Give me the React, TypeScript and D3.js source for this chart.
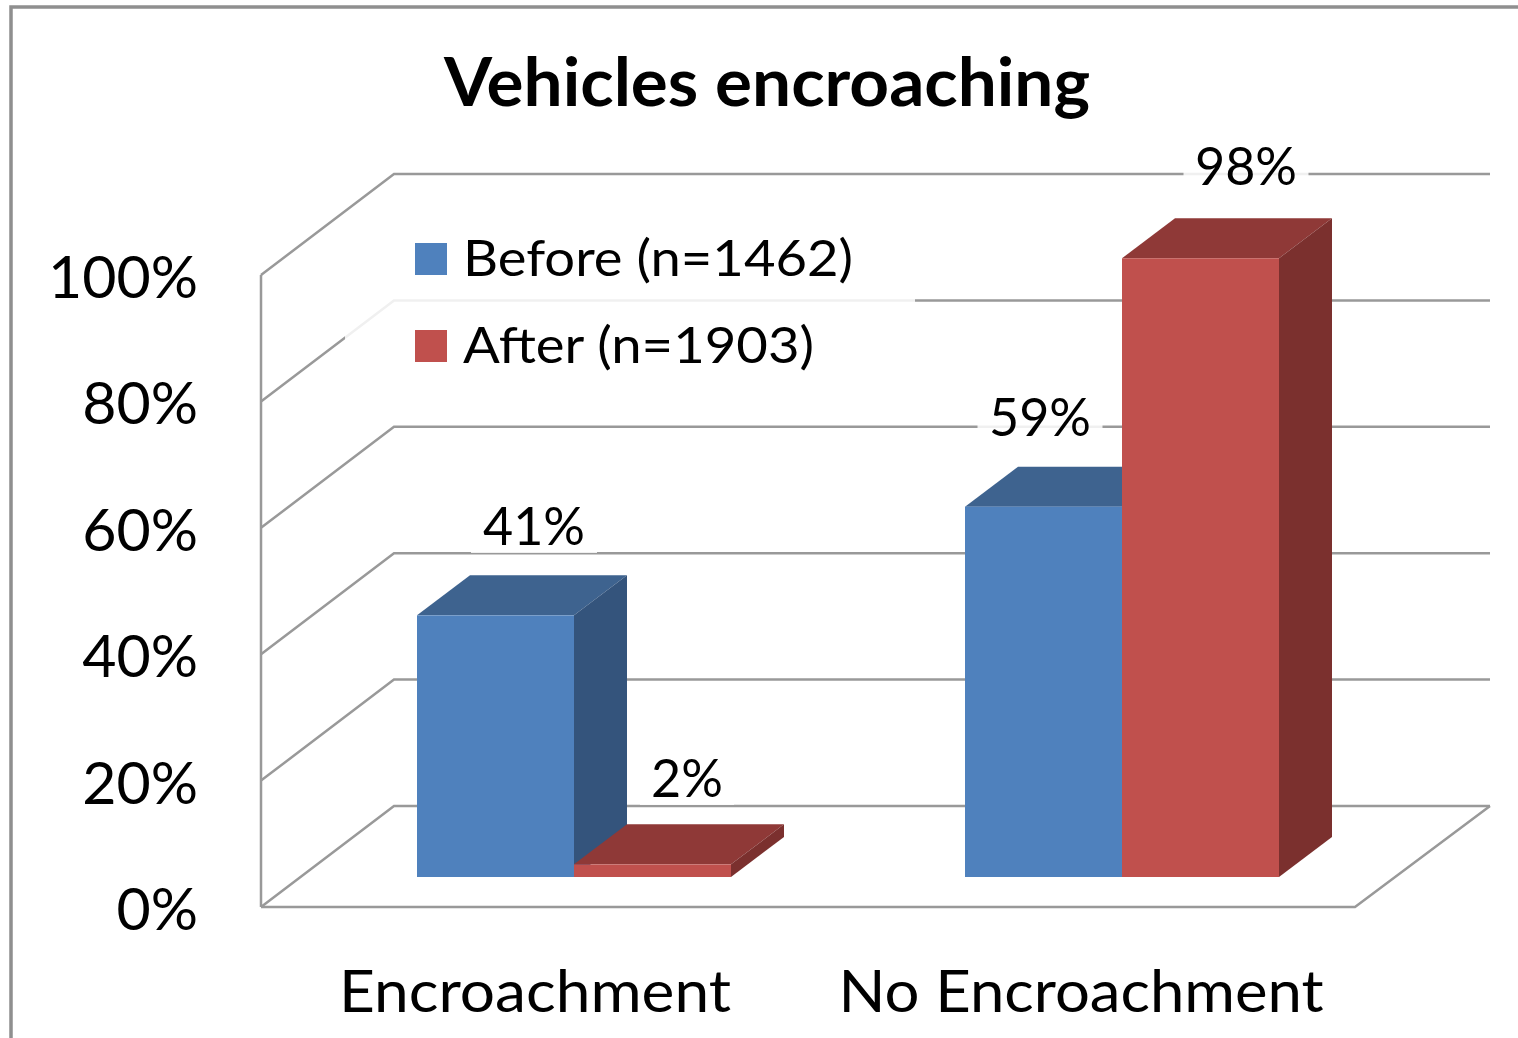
import React from "react";
import * as d3 from "d3";

const categories = ["Encroachment", "No Encroachment"];
const seriesNames = ["Before (n=1462)", "After (n=1903)"];
const before = [41.4, 58.6];
const after = [2, 97.9];
const ticks = [0, 20, 40, 60, 80, 100];
const title = "Vehicles encroaching";

const colors = [
  { front: "#4f81bd", top: "#3e638f", side: "#34547c" },
  { front: "#c0504d", top: "#8f3937", side: "#7b302e" },
];

const yFront = d3.scaleLinear().domain([0, 100]).range([907, 275]);
const depth = { dx: 133, dy: -101 };
const barDepth = { dx: 53, dy: -40 };
const floorFrontY = 877;
const barScale = d3.scaleLinear().domain([0, 100]).range([0, 632]);
const FONT = "Lato, 'Open Sans', sans-serif";
const pct = d3.format(".0f");

export default function App() {
  const barW = 157;
  const gridColor = "#999999";
  const bars = categories.flatMap((c, i) => [
    { c, s: 0, v: before[i], i },
    { c, s: 1, v: after[i], i },
  ]);
  const x0 = (i: number) => (i === 0 ? 417 : 965);
  const labelPos = [
    { v: before[0], x: 534, y: 545, w: 126 },
    { v: after[0], x: 687, y: 797, w: 94 },
    { v: before[1], x: 1040, y: 436, w: 125 },
    { v: after[1], x: 1246, y: 185, w: 125 },
  ];
  return (
    <svg width={1518} height={1038} style={{ position: "absolute", left: 0, top: 0, background: "#fff" }}>
      <rect x={11} y={7} width={1520} height={1040} fill="#fff" stroke="#8f8f8f" strokeWidth={3.5} />
      <text x={767} y={106} textAnchor="middle" fontFamily={FONT} fontWeight={700} fontSize={66} fill="#000" textLength={646} lengthAdjust="spacingAndGlyphs">{title}</text>
      <g fill="none" stroke={gridColor} strokeWidth={2.5}>
        <line x1={261} y1={yFront(0)} x2={261} y2={yFront(100)} />
        {ticks.map((t) => {
          const y = yFront(t);
          return <path key={t} d={`M261,${y}L${261 + depth.dx},${y + depth.dy}L1490,${y + depth.dy}`} />;
        })}
        <path d="M261,907L1355,907L1490,806" />
      </g>
      {/* translucent label backgrounds over the gridlines */}
      <rect x={345} y={290} width={570} height={50} fill="#fff" opacity={0.85} />
      {labelPos.map((l, i) => (
        <rect key={i} x={l.x - l.w / 2} y={l.y - 30} width={l.w} height={38} fill="#fff" opacity={0.85} />
      ))}
      {bars.map((b) => {
        const x = x0(b.i) + b.s * barW;
        const h = barScale(b.v);
        const yt = floorFrontY - h;
        const col = colors[b.s];
        return (
          <g key={b.c + b.s}>
            <path d={`M${x},${yt}L${x + barDepth.dx},${yt + barDepth.dy}L${x + barW + barDepth.dx},${yt + barDepth.dy}L${x + barW},${yt}Z`} fill={col.top} />
            <path d={`M${x + barW},${yt}L${x + barW + barDepth.dx},${yt + barDepth.dy}L${x + barW + barDepth.dx},${floorFrontY + barDepth.dy}L${x + barW},${floorFrontY}Z`} fill={col.side} />
            <rect x={x} y={yt} width={barW} height={h} fill={col.front} />
          </g>
        );
      })}
      <g fontFamily={FONT} fontSize={52} fill="#000" textAnchor="middle">
        {labelPos.map((l, i) => (
          <text key={i} x={l.x} y={l.y}>{pct(l.v)}%</text>
        ))}
      </g>
      <g fontFamily={FONT} fontSize={59} fill="#000" textAnchor="end">
        {ticks.map((t) => (
          <text key={t} x={198} y={yFront(t) + 23}>{t}%</text>
        ))}
      </g>
      <g fontFamily={FONT} fontSize={58} fill="#000" textAnchor="middle">
        <text x={535} y={1012} textLength={392} lengthAdjust="spacingAndGlyphs">{categories[0]}</text>
        <text x={1081} y={1012} textLength={485} lengthAdjust="spacingAndGlyphs">{categories[1]}</text>
      </g>
      {seriesNames.map((n, i) => (
        <g key={n}>
          <rect x={415} y={243 + i * 87} width={32} height={32} fill={colors[i].front} />
          <text x={463} y={276 + i * 87} fontFamily={FONT} fontSize={50} fill="#000" textLength={i === 0 ? 390 : 351} lengthAdjust="spacingAndGlyphs">{n}</text>
        </g>
      ))}
    </svg>
  );
}
